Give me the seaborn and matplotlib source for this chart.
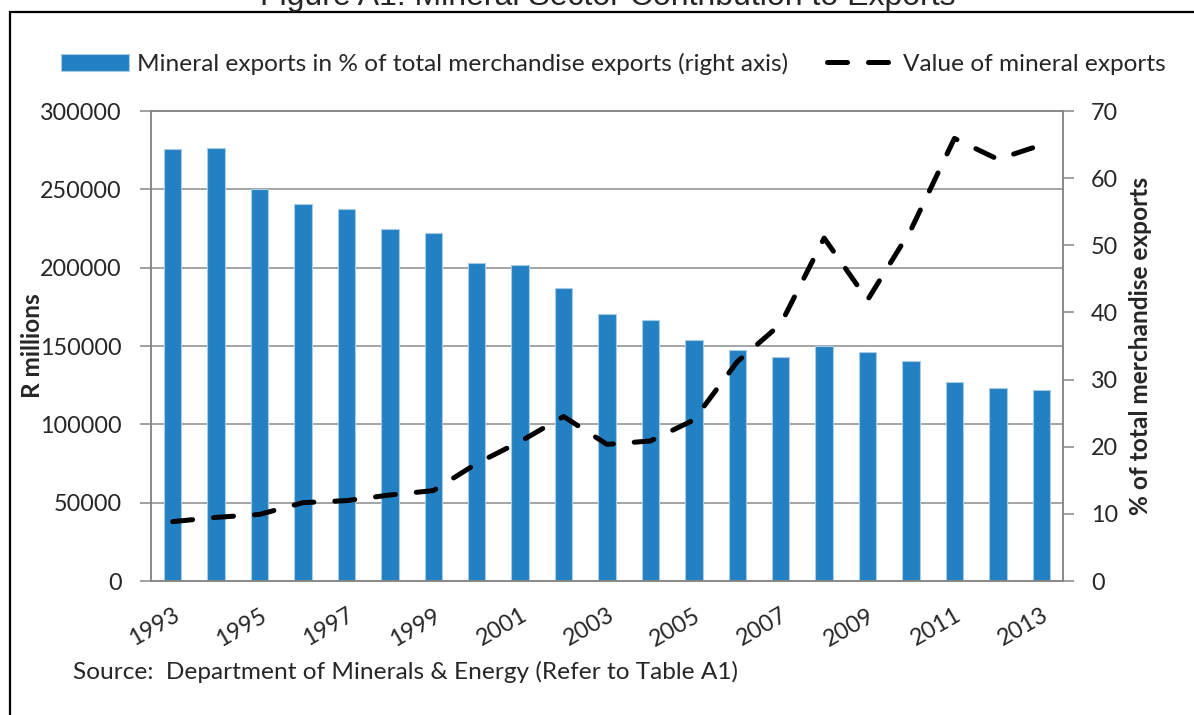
import numpy as np
import pandas as pd
import matplotlib.pyplot as plt
import seaborn as sns
from matplotlib.patches import Rectangle

sns.set_style('white')
plt.rcParams['font.family'] = ['Lato', 'DejaVu Sans']

# data
years = list(range(1993, 2014))
mineral_pct = [64.4, 64.5, 58.4, 56.1, 55.4, 52.4, 51.9, 47.3, 47.1, 43.7, 39.7,
               38.8, 35.9, 34.4, 33.3, 35.0, 34.1, 32.8, 29.7, 28.8, 28.5]
mineral_value = [37900, 40600, 42500, 50000, 51300, 54900, 57700, 75000, 89000,
                 105000, 87200, 89400, 102800, 140000, 164000, 218900, 179400,
                 224300, 282500, 269200, 278300]
left_ticks = list(range(0, 300001, 50000))
right_ticks = list(range(0, 71, 10))

df = pd.DataFrame({'year': [str(y) for y in years], 'pos': range(len(years)),
                   'pct': mineral_pct, 'value': mineral_value})

BLUE = '#2381C3'
GREY = '#868686'
FS = 17.6      # labels, legend, source
TFS = 16.8     # tick labels

fig = plt.figure(figsize=(11.94, 7.15), dpi=100)
ax = fig.add_axes([151/1194, 1-581/715, 912/1194, 470/715])
ax2 = ax.twinx()

# bars -> right axis (%), line -> left axis (R millions)
sns.barplot(data=df, x='year', y='pct', ax=ax, color=BLUE, width=0.4,
            edgecolor='#a9cbe6', linewidth=0.8, saturation=1)
sns.lineplot(data=df, x='pos', y='value', ax=ax2, color='black', lw=3.6,
             linestyle=(0, (4, 4.2)), dash_capstyle='round')

ax.yaxis.tick_right()
ax.yaxis.set_label_position('right')
ax2.yaxis.tick_left()
ax2.yaxis.set_label_position('left')

ax.set_ylim(0, 70)
ax.set_yticks(right_ticks)
ax2.set_ylim(0, 300000)
ax2.set_yticks(left_ticks)
ax.set_xlim(-0.5, len(years) - 0.5)

# horizontal grid follows the left axis, drawn under the bars
ax.set_yticks(np.linspace(0, 70, len(left_ticks)), minor=True)
ax.grid(which='minor', axis='y', color='#8c8c8c', lw=1.1)
ax.grid(which='major', visible=False)
ax.set_axisbelow(True)

ax.set_xticks(range(0, len(years), 2))
ax.set_xticklabels(years[::2])
ax.set_xticks(np.arange(-0.5, len(years) - 1, 2), minor=True)
ax.tick_params(axis='x', which='major', length=0, pad=17, labelsize=TFS)
ax.tick_params(axis='x', which='minor', length=8, width=1.1, color=GREY)
ax.tick_params(axis='y', which='minor', length=0)
ax.tick_params(axis='y', which='major', length=8, width=1.1, color=GREY,
               pad=12, labelsize=TFS)
ax2.tick_params(axis='y', length=8, width=1.1, color=GREY, pad=13, labelsize=TFS)
plt.setp(ax.get_xticklabels(), rotation=30, ha='right', rotation_mode='anchor')

for a in (ax, ax2):
    for s in a.spines.values():
        s.set_color(GREY)
        s.set_linewidth(1.1)
    a.set_xlabel('')
    a.set_ylabel('')

fig.text(33/1194, 1-346/715, 'R millions', rotation=90, ha='center', va='center',
         fontsize=FS, fontweight='bold')
fig.text(1141/1194, 1-346/715, '% of total merchandise exports', rotation=90,
         ha='center', va='center', fontsize=FS, fontweight='bold')

handles = [ax.containers[0], ax2.lines[0]]
labels = ['Mineral exports in % of total merchandise exports (right axis)',
          'Value of mineral exports']
fig.legend(handles, labels, loc='center', bbox_to_anchor=(613/1194, 1-64/715),
           ncol=2, frameon=False, fontsize=FS, handlelength=2.8,
           handletextpad=0.3, columnspacing=1.6)

fig.text(73/1194, 1-672/715, 'Source:  Department of Minerals & Energy (Refer to Table A1)',
         va='center', fontsize=FS)

# title cut off at the top edge and the frame around the figure
fig.text(608/1194, 1-5/715, 'Figure A1: Mineral Sector Contribution to Exports',
         ha='center', va='baseline', fontsize=23, family='Liberation Sans')
fig.add_artist(Rectangle((10/1194, -0.1), 1.2, 1.1 - 12/715, transform=fig.transFigure,
                         fill=False, ec='black', lw=1.6))

fig.savefig('out.png', dpi=100)
